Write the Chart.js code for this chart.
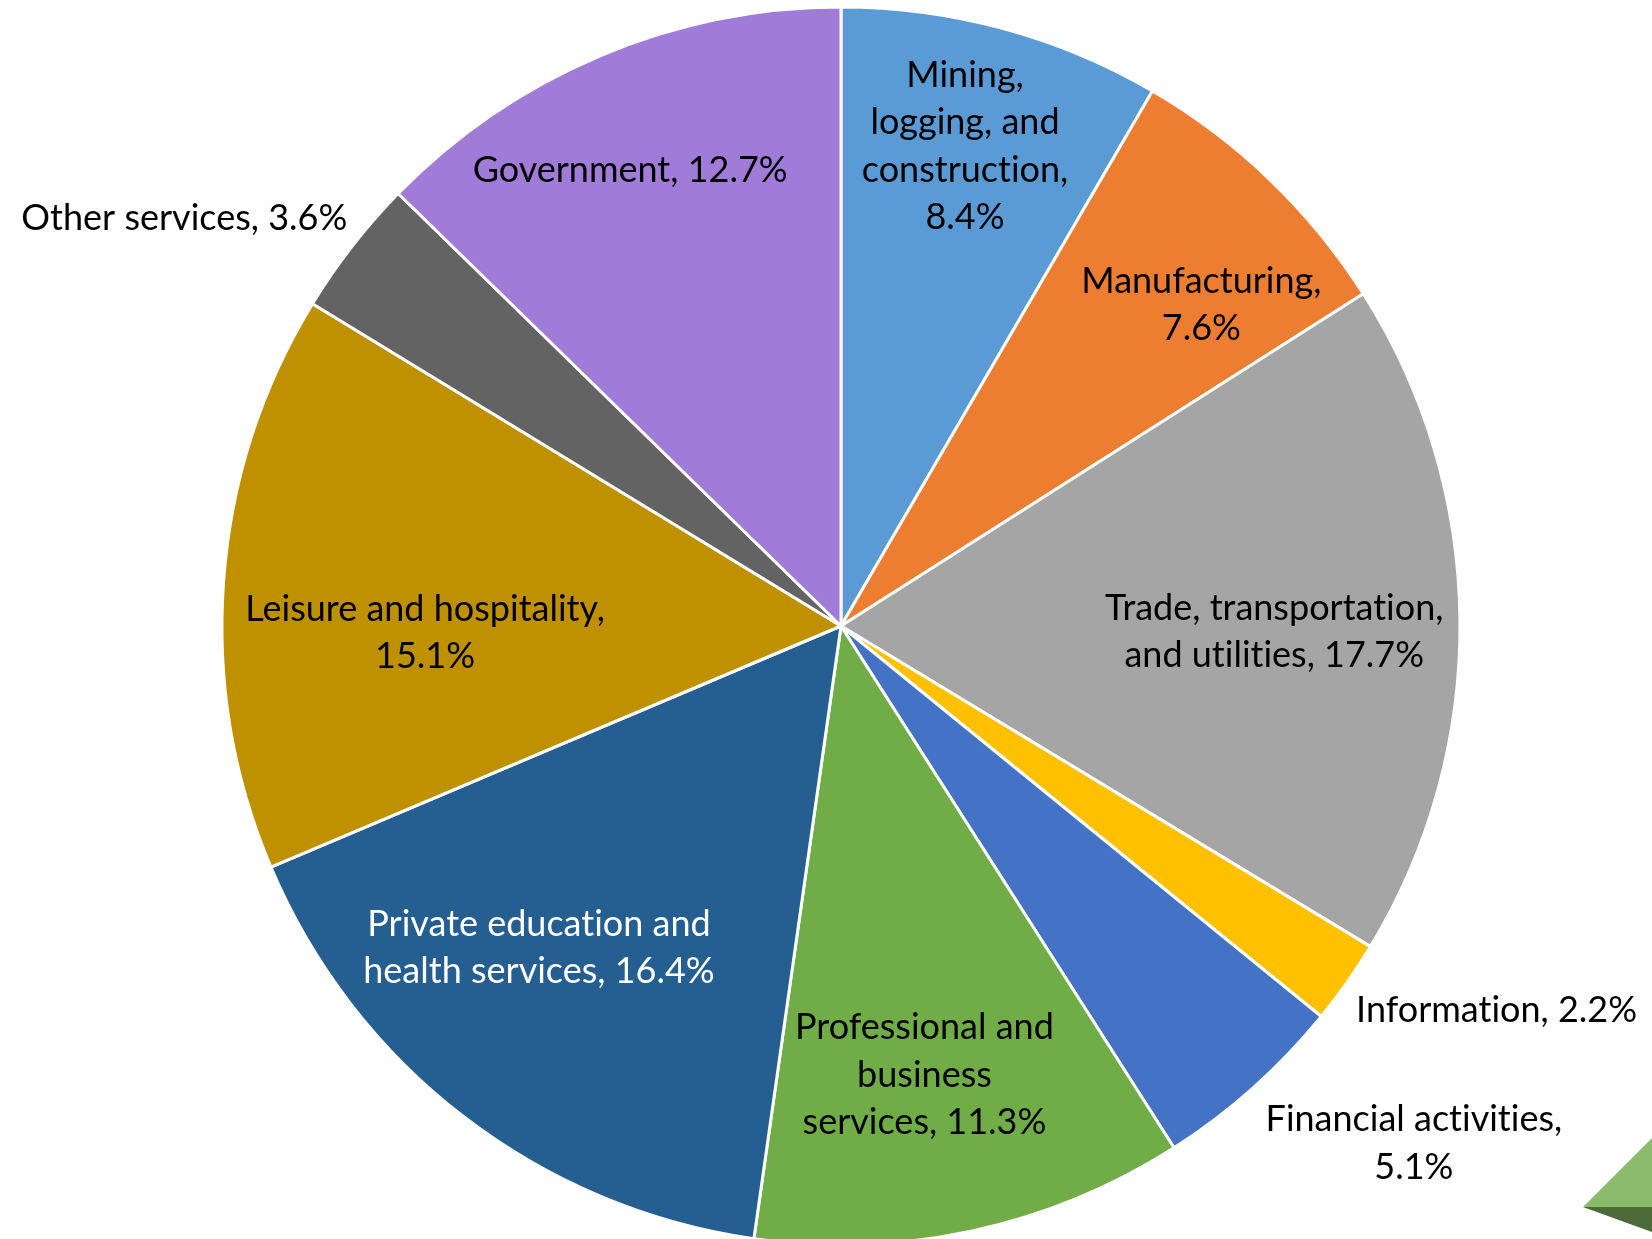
<!DOCTYPE html>
<html>
<head>
<meta charset="utf-8">
<script src="https://cdn.jsdelivr.net/npm/chart.js@4/dist/chart.umd.min.js"></script>
<style>
    html, body { margin: 0; padding: 0; background: #ffffff; overflow: hidden; }
    #wrap { position: absolute; left: 0; top: 0; }
</style>
</head>
<body>
<div id="wrap"><canvas id="sectorChart" width="1652" height="1252"></canvas></div>
<script>
// share of employment by industry (%)
const sectors = [
    'Mining, logging, and construction',
    'Manufacturing',
    'Trade, transportation, and utilities',
    'Information',
    'Financial activities',
    'Professional and business services',
    'Private education and health services',
    'Leisure and hospitality',
    'Other services',
    'Government'
];
const shares = [8.4, 7.6, 17.7, 2.2, 5.1, 11.3, 16.4, 15.1, 3.6, 12.7];

const sliceColors = ['#5B9BD5', '#ED7D31', '#A5A5A5', '#FFC000', '#4472C4', '#70AD47', '#255E91', '#BF9000', '#636363', '#A07CD8'];
const labelColors = ['#000', '#000', '#000', '#000', '#000', '#000', '#fff', '#000', '#000', '#000'];

// label placement: distance from centre (x radius), angle nudge (deg), wrap width (px)
const labelDist = [0.80, 0.78, 0.70, 1.228, 1.247, 0.738, 0.713, 0.672, 1.249, 0.811];
const labelNudge = [-0.6, 4.4, 1.4, -4.75, -6.2, 1.7, 5.6, -5.2, -6.0, -2.0];
const labelWrap = [230, 280, 370, 500, 330, 270, 380, 400, 500, 500];

const FONT = '36px Lato';
const LINE_H = 47.5;

function wrapText(ctx, text, maxW) {
    const words = text.split(' ');
    const lines = [];
    let cur = '';
    words.forEach(w => {
        const test = cur ? cur + ' ' + w : w;
        if (cur && ctx.measureText(test).width > maxW) {
            lines.push(cur);
            cur = w;
        } else {
            cur = test;
        }
    });
    if (cur) lines.push(cur);
    return lines;
}

const sliceLabels = {
    id: 'sliceLabels',
    afterDatasetsDraw(chart) {
        const ctx = chart.ctx;
        const meta = chart.getDatasetMeta(0);
        ctx.save();
        ctx.font = FONT;
        ctx.textAlign = 'center';
        ctx.textBaseline = 'middle';
        meta.data.forEach((arc, i) => {
            const p = arc.getProps(['x', 'y', 'startAngle', 'endAngle', 'outerRadius'], true);
            const mid = (p.startAngle + p.endAngle) / 2 + labelNudge[i] * Math.PI / 180;
            const r = p.outerRadius * labelDist[i];
            const cx = p.x + Math.cos(mid) * r;
            const cy = p.y + Math.sin(mid) * r;
            const text = sectors[i] + ', ' + shares[i].toFixed(1) + '%';
            const lines = wrapText(ctx, text, labelWrap[i]);
            ctx.fillStyle = labelColors[i];
            const top = cy - (lines.length - 1) * LINE_H / 2;
            // break the Lato "ti" ligature so words read like the original
            lines.forEach((ln, k) => ctx.fillText(ln.replace(/t(?=i)/g, 't\u200C'), cx, top + k * LINE_H));
        });
        ctx.restore();
    }
};

// green corner ornament of the slide
const cornerShape = {
    id: 'cornerShape',
    afterDraw(chart) {
        const ctx = chart.ctx;
        const w = chart.width;
        ctx.save();
        ctx.fillStyle = '#8BBA6B';
        ctx.beginPath();
        ctx.moveTo(w - 69, 1207);
        ctx.lineTo(w, 1138);
        ctx.lineTo(w, 1207);
        ctx.closePath();
        ctx.fill();
        ctx.fillStyle = '#4D6B38';
        ctx.beginPath();
        ctx.moveTo(w - 69, 1207);
        ctx.lineTo(w, 1207);
        ctx.lineTo(w, 1232);
        ctx.closePath();
        ctx.fill();
        ctx.restore();
    }
};

const ctx = document.getElementById('sectorChart').getContext('2d');
new Chart(ctx, {
    type: 'pie',
    data: {
        labels: sectors,
        datasets: [{
            data: shares,
            backgroundColor: sliceColors,
            borderColor: '#ffffff',
            borderWidth: 3,
            radius: 619
        }]
    },
    options: {
        responsive: false,
        animation: false,
        layout: { padding: { left: 30 } },
        plugins: {
            legend: { display: false },
            tooltip: { enabled: false }
        }
    },
    plugins: [sliceLabels, cornerShape]
});
</script>
</body>
</html>
